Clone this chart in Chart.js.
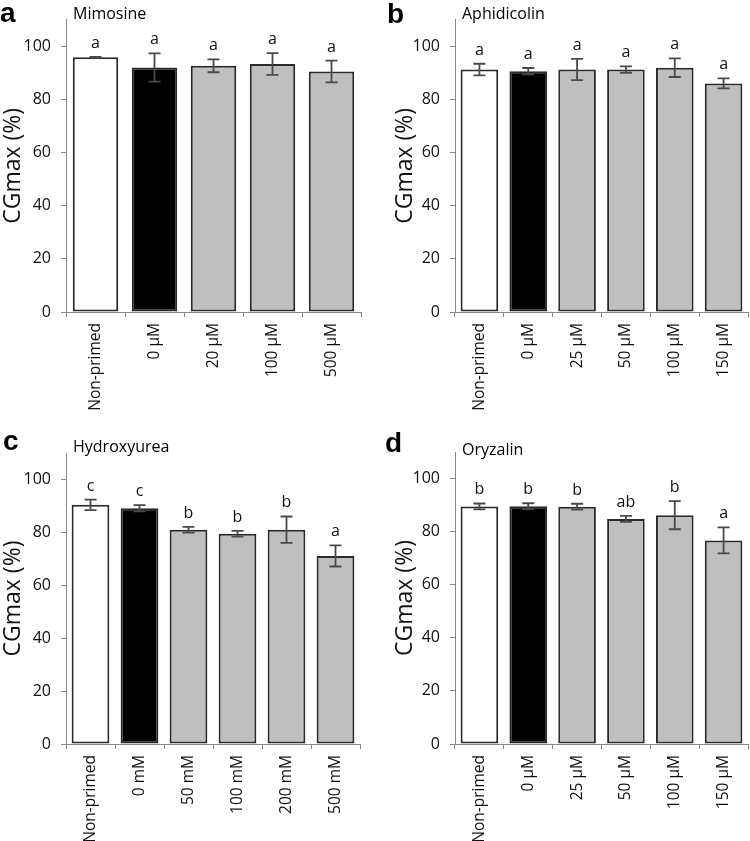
<!DOCTYPE html>
<html>
<head>
<meta charset="utf-8">
<script src="https://cdn.jsdelivr.net/npm/chart.js@4.4.1/dist/chart.umd.min.js"></script>
<style>
  body { margin: 0; background: #fff; }
  #wrap { position: relative; width: 750px; height: 841px; }
  canvas { position: absolute; }
</style>
</head>
<body>
<div id="wrap">
  <canvas id="chartA" width="375" height="420" style="left:0;top:0"></canvas>
  <canvas id="chartB" width="375" height="420" style="left:375px;top:0"></canvas>
  <canvas id="chartC" width="375" height="421" style="left:0;top:420px"></canvas>
  <canvas id="chartD" width="375" height="421" style="left:375px;top:420px"></canvas>
</div>
<script>
// Datos (CGmax %, media y error)
const mimosineLabels = ['Non-primed', '0 µM', '20 µM', '100 µM', '500 µM'];
const mimosineMeans = [95.8, 92.0, 92.6, 93.3, 90.5];
const mimosineErrors = [0.15, 5.3, 2.4, 4.1, 4.1];
const mimosineLetters = ['a', 'a', 'a', 'a', 'a'];

const aphidicolinLabels = ['Non-primed', '0 µM', '25 µM', '50 µM', '100 µM', '150 µM'];
const aphidicolinMeans = [91.2, 90.6, 91.2, 91.2, 91.9, 86.0];
const aphidicolinErrors = [2.2, 1.2, 4.0, 1.2, 3.5, 1.9];
const aphidicolinLetters = ['a', 'a', 'a', 'a', 'a', 'a'];

const hydroxyureaLabels = ['Non-primed', '0 mM', '50 mM', '100 mM', '200 mM', '500 mM'];
const hydroxyureaMeans = [90.4, 89.1, 81.0, 79.5, 81.0, 71.1];
const hydroxyureaErrors = [2.0, 1.2, 1.1, 1.1, 5.0, 4.0];
const hydroxyureaLetters = ['c', 'c', 'b', 'b', 'b', 'a'];

const oryzalinLabels = ['Non-primed', '0 µM', '25 µM', '50 µM', '100 µM', '150 µM'];
const oryzalinMeans = [89.5, 89.6, 89.4, 84.8, 86.2, 76.7];
const oryzalinErrors = [1.1, 1.1, 1.1, 1.1, 5.3, 4.9];
const oryzalinLetters = ['b', 'b', 'b', 'ab', 'b', 'a'];

const yTicks = [0, 20, 40, 60, 80, 100];

Chart.defaults.font.family = "'Open Sans', sans-serif";
Chart.defaults.color = '#111';

// Barras de error, letras de significancia y rotulos del panel
const annotatePlugin = {
  id: 'annotate',
  afterDatasetsDraw(chart, args, opts) {
    const ctx = chart.ctx;
    const yScale = chart.scales.y;
    const meta = chart.getDatasetMeta(0);
    ctx.save();
    opts.means.forEach((m, i) => {
      const x = meta.data[i].x;
      const yTop = yScale.getPixelForValue(m + opts.errors[i]);
      const yBot = yScale.getPixelForValue(m - opts.errors[i]);
      ctx.strokeStyle = '#4a4a4a';
      ctx.lineWidth = 1.8;
      ctx.beginPath();
      ctx.moveTo(x, yTop); ctx.lineTo(x, yBot);
      ctx.moveTo(x - 6, yTop); ctx.lineTo(x + 6, yTop);
      ctx.moveTo(x - 6, yBot); ctx.lineTo(x + 6, yBot);
      ctx.stroke();

      ctx.fillStyle = '#111';
      ctx.font = "16px 'Open Sans', sans-serif";
      ctx.textAlign = 'center';
      ctx.textBaseline = 'alphabetic';
      ctx.fillText(opts.letters[i], x, yTop - 9);
    });

    ctx.textAlign = 'left';
    ctx.fillStyle = '#000';
    ctx.font = "bold 28px 'Liberation Sans', Arial, sans-serif";
    ctx.fillText(opts.panel, opts.panelX, opts.panelY);
    ctx.font = "16px 'Open Sans', sans-serif";
    ctx.fillText(opts.title, opts.titleX, opts.titleY);
    ctx.restore();
  }
};

function makeChart(id, labels, means, errors, letters, panel, title, layout) {
  const colors = labels.map((l, i) => i === 0 ? '#ffffff' : i === 1 ? '#000000' : '#bfbfbf');
  return new Chart(document.getElementById(id), {
    type: 'bar',
    data: {
      labels: labels,
      datasets: [{
        data: means,
        backgroundColor: colors,
        borderColor: '#2a2a2a',
        borderWidth: 2,
        borderSkipped: false,
        barPercentage: 0.77,
        categoryPercentage: 1.0
      }]
    },
    options: {
      responsive: false,
      animation: false,
      events: [],
      layout: { padding: { top: layout.top, right: layout.right, left: 0, bottom: 0 } },
      plugins: {
        legend: { display: false },
        tooltip: { enabled: false },
        annotate: {
          means: means, errors: errors, letters: letters,
          panel: panel, panelX: layout.panelX, panelY: layout.panelY,
          title: title, titleX: layout.titleX, titleY: layout.titleY
        }
      },
      scales: {
        x: {
          offset: true,
          grid: { display: true, offset: true, drawOnChartArea: false, drawTicks: true, tickLength: 5, color: '#888' },
          border: { display: true, color: '#888', width: 1 },
          ticks: { autoSkip: false, minRotation: 90, maxRotation: 90, padding: 6, color: '#111', font: { size: 15.5 } },
          afterFit: s => { s.height = layout.xHeight; }
        },
        y: {
          min: 0,
          max: 110,
          afterBuildTicks: s => { s.ticks = yTicks.map(v => ({ value: v })); },
          grid: { display: true, drawOnChartArea: false, drawTicks: true, tickLength: 5, color: '#888' },
          border: { display: true, color: '#888', width: 1 },
          ticks: { padding: 10, color: '#111', font: { size: 16 } },
          title: { display: true, text: 'CGmax (%)', color: '#111', font: { size: 23 }, padding: { top: layout.titlePad, bottom: 0 } },
          afterFit: s => { s.width = layout.yWidth; }
        }
      }
    },
    plugins: [annotatePlugin]
  });
}

makeChart('chartA', mimosineLabels, mimosineMeans, mimosineErrors, mimosineLetters, 'a', 'Mimosine',
  { top: 18, right: 14, xHeight: 108, yWidth: 66, titlePad: 0, panelX: 0, panelY: 22, titleX: 73, titleY: 19 });
makeChart('chartB', aphidicolinLabels, aphidicolinMeans, aphidicolinErrors, aphidicolinLetters, 'b', 'Aphidicolin',
  { top: 18, right: 2, xHeight: 108, yWidth: 80, titlePad: 17, panelX: 12, panelY: 23, titleX: 87, titleY: 19 });
makeChart('chartC', hydroxyureaLabels, hydroxyureaMeans, hydroxyureaErrors, hydroxyureaLetters, 'c', 'Hydroxyurea',
  { top: 33, right: 15, xHeight: 97, yWidth: 66, titlePad: 0, panelX: 3, panelY: 30, titleX: 73, titleY: 32 });
makeChart('chartD', oryzalinLabels, oryzalinMeans, oryzalinErrors, oryzalinLetters, 'd', 'Oryzalin',
  { top: 32, right: 2, xHeight: 97, yWidth: 80, titlePad: 17, panelX: 10, panelY: 32, titleX: 87, titleY: 35 });
</script>
</body>
</html>
